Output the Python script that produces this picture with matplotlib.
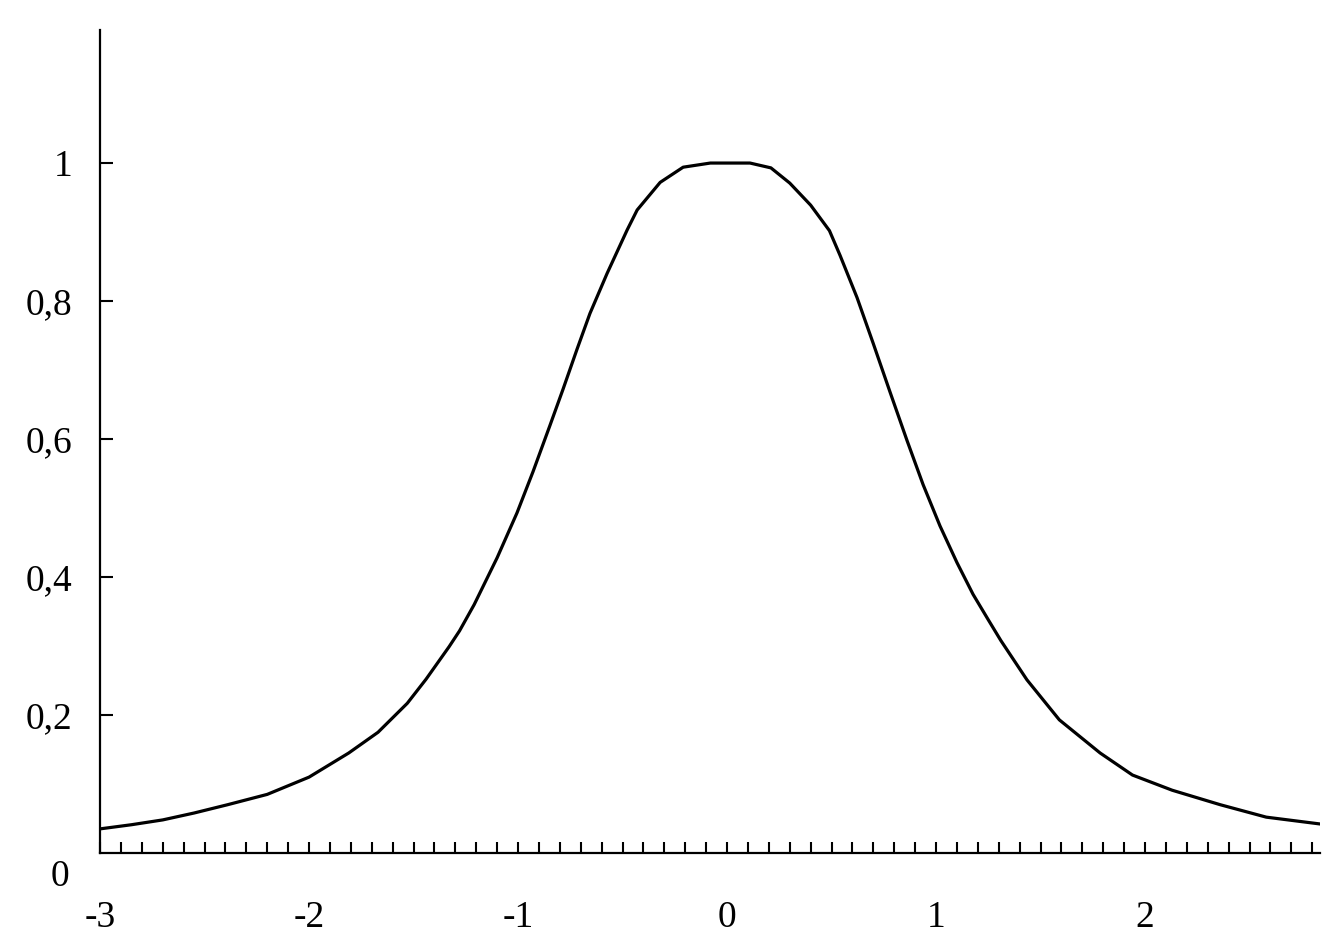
import numpy as np
import matplotlib.pyplot as plt
from matplotlib.ticker import MultipleLocator, FixedLocator

# values
x_vals = [-3.00, -2.85, -2.70, -2.55, -2.39, -2.20, -2.00, -1.81, -1.67, -1.53,
          -1.44, -1.33, -1.28, -1.21, -1.10, -1.005, -0.928, -0.847, -0.785, -0.718,
          -0.656, -0.574, -0.478, -0.43, -0.32, -0.21, -0.08, 0.11, 0.21, 0.30,
          0.40, 0.49, 0.541, 0.622, 0.699, 0.780, 0.861, 0.938, 1.019, 1.10,
          1.177, 1.25, 1.31, 1.435, 1.59, 1.785, 1.94, 2.13, 2.36, 2.58, 2.84]
y_vals = [0.035, 0.041, 0.048, 0.058, 0.070, 0.085, 0.110, 0.145, 0.175, 0.217,
          0.252, 0.299, 0.322, 0.360, 0.428, 0.493, 0.553, 0.620, 0.672, 0.730,
          0.782, 0.840, 0.903, 0.932, 0.972, 0.994, 1.000, 1.000, 0.993, 0.971,
          0.939, 0.902, 0.866, 0.805, 0.739, 0.668, 0.598, 0.534, 0.474, 0.421,
          0.375, 0.338, 0.308, 0.251, 0.193, 0.145, 0.113, 0.091, 0.070, 0.052, 0.042]

x_ticks = [-3, -2, -1, 0, 1, 2]
x_labels = ['-3', '-2', '-1', '0', '1', '2']
y_ticks = [0.2, 0.4, 0.6, 0.8, 1.0]
y_labels = ['0,2', '0,4', '0,6', '0,8', '1']

plt.rcParams['font.family'] = ['Liberation Serif', 'DejaVu Serif']

fig = plt.figure(figsize=(13.27, 9.34), dpi=100)
ax = fig.add_axes([0.0754, 0.0867, 0.9193, 0.8813])

ax.plot(x_vals, y_vals, color='black', linewidth=2.3, solid_joinstyle='round')

ax.set_xlim(-3, 2.837)
ax.set_ylim(0, 1.193)

for side in ['top', 'right']:
    ax.spines[side].set_visible(False)
for side in ['left', 'bottom']:
    ax.spines[side].set_linewidth(1.6)

# ось X: подписи на целых, мелкие риски через 0.1
ax.xaxis.set_major_locator(FixedLocator(x_ticks))
ax.set_xticklabels(x_labels)
ax.xaxis.set_minor_locator(MultipleLocator(0.1))
ax.tick_params(axis='x', which='both', direction='in', length=8, width=1.5,
               pad=34, labelsize=27)

# ось Y
ax.set_yticks(y_ticks)
ax.set_yticklabels(y_labels)
ax.tick_params(axis='y', which='major', direction='in', length=9.5, width=1.5,
               pad=20, labelsize=27)

# отдельный ноль в углу
ax.annotate('0', xy=(-3, 0), xytext=(-29, -17), textcoords='offset points',
            ha='center', va='center', fontsize=27)

fig.savefig('out.png', dpi=100)
